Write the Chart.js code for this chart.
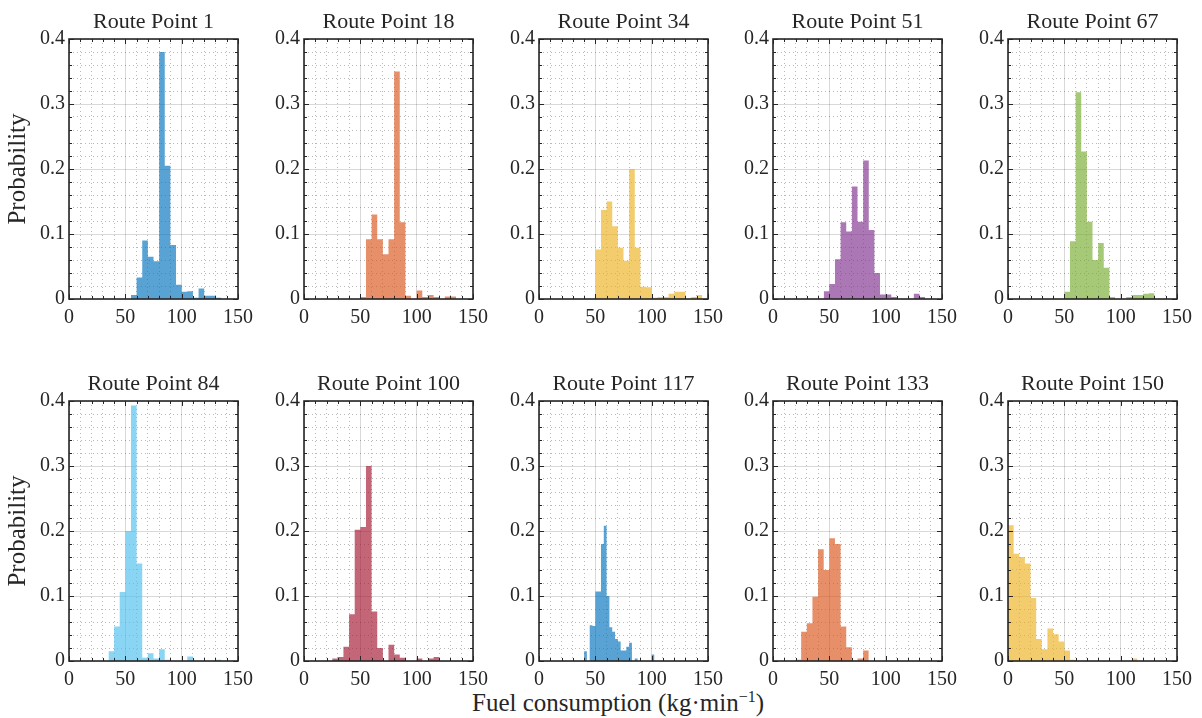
<!DOCTYPE html>
<html>
<head>
<meta charset="utf-8">
<title>Fuel consumption along the route</title>
<script src="https://cdn.jsdelivr.net/npm/chart.js@4.4.1/dist/chart.umd.min.js"></script>
<style>
  body { margin: 0; background: #fff; }
  #fig { position: relative; width: 1202px; height: 718px; font-family: "Liberation Serif", serif; color: #262626; }
  .panel { position: absolute; }
  #xlabel { position: absolute; top: 688px; left: 418px; width: 400px; text-align: center; font-size: 25px; white-space: nowrap; }
  #xlabel sup { font-size: 16px; }
</style>
</head>
<body>
<div id="fig">
  <div id="xlabel">Fuel consumption (kg&middot;min<sup>&minus;1</sup>)</div>
</div>
<script>
const routePoints = [1, 18, 34, 51, 67, 84, 100, 117, 133, 150];

// left edge and width of the histogram bins for each route point
const binStart = [55, 50, 50, 45, 50, 35, 25, 40, 20, 0];
const binWidth = [5, 5, 5, 5, 5, 5, 5, 2.5, 5, 5];

const probRP1   = [0.006, 0.033, 0.09, 0.065, 0.058, 0.38, 0.205, 0.083, 0.022, 0.011, 0.012, 0.002, 0.016, 0.005, 0.005, 0.002];
const probRP18  = [0.003, 0.092, 0.13, 0.092, 0.069, 0.092, 0.35, 0.118, 0.005, 0, 0.013, 0.003, 0.006, 0.003, 0, 0.004, 0.004];
const probRP34  = [0.076, 0.137, 0.15, 0.112, 0.079, 0.059, 0.2, 0.079, 0.019, 0.018, 0.002, 0.003, 0.003, 0.008, 0.011, 0.011, 0, 0.003, 0.006];
const probRP51  = [0.012, 0.023, 0.061, 0.118, 0.104, 0.173, 0.119, 0.213, 0.106, 0.04, 0.007, 0.007, 0.003, 0, 0, 0, 0.008, 0.003];
const probRP67  = [0.011, 0.089, 0.318, 0.227, 0.119, 0.06, 0.086, 0.048, 0.003, 0, 0, 0.003, 0.006, 0.006, 0.008, 0.009];
const probRP84  = [0.015, 0.053, 0.106, 0.2, 0.393, 0.15, 0.005, 0.012, 0.004, 0.018, 0.002, 0, 0, 0, 0.007, 0, 0, 0, 0, 0.002];
const probRP100 = [0.004, 0.006, 0.022, 0.072, 0.202, 0.206, 0.3, 0.076, 0.02, 0, 0.025, 0.01, 0.005, 0, 0, 0.004, 0, 0.004, 0.006];
const probRP117 = [0.015, 0, 0.055, 0.054, 0.107, 0.107, 0.18, 0.208, 0.1, 0.052, 0.045, 0.034, 0.03, 0.016, 0.016, 0.022, 0.028, 0, 0.004, 0, 0, 0, 0, 0, 0.01];
const probRP133 = [0.002, 0.045, 0.058, 0.099, 0.172, 0.14, 0.189, 0.18, 0.053, 0.021, 0, 0.004, 0.016];
const probRP150 = [0.209, 0.165, 0.16, 0.15, 0.097, 0.034, 0.018, 0.05, 0.041, 0.03, 0.016, 0.002, 0, 0, 0, 0, 0, 0, 0, 0, 0, 0, 0.004];

const probabilities = [probRP1, probRP18, probRP34, probRP51, probRP67, probRP84, probRP100, probRP117, probRP133, probRP150];

const xTicks = [0, 50, 100, 150];
const yTicks = [0, 0.1, 0.2, 0.3, 0.4];

// matlab default colour order, drawn with some transparency
const faceColors = [
  [0, 114, 189], [217, 83, 25], [237, 177, 32], [126, 47, 142], [119, 172, 48],
  [77, 190, 238], [162, 20, 47], [0, 114, 189], [217, 83, 25], [237, 177, 32]
];
const faceAlpha = 0.65;

Chart.defaults.font.family = '"Liberation Serif", serif';
Chart.defaults.color = '#262626';

const axisColor = '#262626';
const isMajorX = v => xTicks.some(t => Math.abs(t - v) < 1e-6);
const isMajorY = v => yTicks.some(t => Math.abs(t - v) < 1e-6);

// box round the axes with inward ticks on all four sides
const boxTicks = {
  id: 'boxTicks',
  afterDatasetsDraw(chart) {
    const { ctx, chartArea: a, scales: { x, y } } = chart;
    ctx.save();
    ctx.strokeStyle = axisColor;
    ctx.lineWidth = 1;
    ctx.beginPath();
    x.ticks.forEach(t => {
      const px = Math.round(x.getPixelForValue(t.value)) + 0.5;
      const len = isMajorX(t.value) ? 5 : 3;
      ctx.moveTo(px, a.bottom); ctx.lineTo(px, a.bottom - len);
      ctx.moveTo(px, a.top); ctx.lineTo(px, a.top + len);
    });
    y.ticks.forEach(t => {
      const py = Math.round(y.getPixelForValue(t.value)) + 0.5;
      const len = isMajorY(t.value) ? 5 : 3;
      ctx.moveTo(a.left, py); ctx.lineTo(a.left + len, py);
      ctx.moveTo(a.right, py); ctx.lineTo(a.right - len, py);
    });
    ctx.stroke();
    ctx.lineWidth = 1.6;
    ctx.strokeRect(a.left, a.top, a.right - a.left, a.bottom - a.top);
    ctx.restore();
  }
};

// title centred over the axes rather than the whole canvas
const panelTitle = {
  id: 'panelTitle',
  afterDraw(chart, args, opts) {
    const { ctx, chartArea: a } = chart;
    ctx.save();
    ctx.font = '22px "Liberation Serif", serif';
    ctx.fillStyle = axisColor;
    ctx.textAlign = 'center';
    ctx.textBaseline = 'alphabetic';
    ctx.fillText(opts.text, (a.left + a.right) / 2, a.top - 11);
    ctx.restore();
  }
};

const fig = document.getElementById('fig');

routePoints.forEach((rp, i) => {
  const col = i % 5;
  const row = Math.floor(i / 5);

  const holder = document.createElement('div');
  holder.className = 'panel';
  holder.style.left = (col * 234.75) + 'px';
  holder.style.top = (row * 362) + 'px';
  const canvas = document.createElement('canvas');
  canvas.width = 260;
  canvas.height = 329;
  holder.appendChild(canvas);
  fig.appendChild(holder);

  // histogram outline: one point per bin left edge, closed at the last right edge.
  // 'before' keeps each value flat until the next edge, then steps.
  const probs = probabilities[i];
  const steps = probs.map((p, k) => ({ x: binStart[i] + binWidth[i] * k, y: p }));
  steps.push({ x: binStart[i] + binWidth[i] * probs.length, y: 0 });
  const [r, g, b] = faceColors[i];

  new Chart(canvas, {
    type: 'line',
    data: {
      datasets: [{
        data: steps,
        stepped: 'before',
        fill: 'origin',
        backgroundColor: `rgba(${r},${g},${b},${faceAlpha})`,
        borderColor: 'rgba(0,0,0,0)',
        borderWidth: 0,
        pointRadius: 0
      }]
    },
    options: {
      responsive: false,
      animation: false,
      events: [],
      layout: { padding: { left: 0, right: 20, top: 39, bottom: 0 } },
      plugins: {
        legend: { display: false },
        tooltip: { enabled: false },
        panelTitle: { text: 'Route Point ' + rp }
      },
      scales: {
        x: {
          type: 'linear',
          min: 0,
          max: 150,
          afterFit: s => { s.height = 30; },
          ticks: {
            stepSize: 10,
            autoSkip: false,
            maxRotation: 0,
            padding: 7,
            color: axisColor,
            font: { size: 20 },
            callback: v => isMajorX(v) ? String(v) : ''
          },
          grid: {
            drawTicks: false,
            lineWidth: 1,
            color: c => isMajorX(c.tick.value) ? 'rgba(0,0,0,0.15)' : 'rgba(0,0,0,0.28)'
          },
          border: {
            display: false,
            dash: c => isMajorX(c.tick.value) ? [] : [1, 3]
          }
        },
        y: {
          min: 0,
          max: 0.4,
          afterFit: s => { s.width = 69; },
          title: {
            display: col === 0,
            text: 'Probability',
            color: axisColor,
            font: { size: 25 },
            padding: { top: 3, bottom: 0 }
          },
          ticks: {
            stepSize: 0.02,
            autoSkip: false,
            padding: 4,
            color: axisColor,
            font: { size: 20 },
            callback: v => isMajorY(v) ? String(Math.round(v * 10) / 10) : ''
          },
          grid: {
            drawTicks: false,
            lineWidth: 1,
            color: c => isMajorY(c.tick.value) ? 'rgba(0,0,0,0.15)' : 'rgba(0,0,0,0.28)'
          },
          border: {
            display: false,
            dash: c => isMajorY(c.tick.value) ? [] : [1, 3]
          }
        }
      }
    },
    plugins: [panelTitle, boxTicks]
  });
});
</script>
</body>
</html>
